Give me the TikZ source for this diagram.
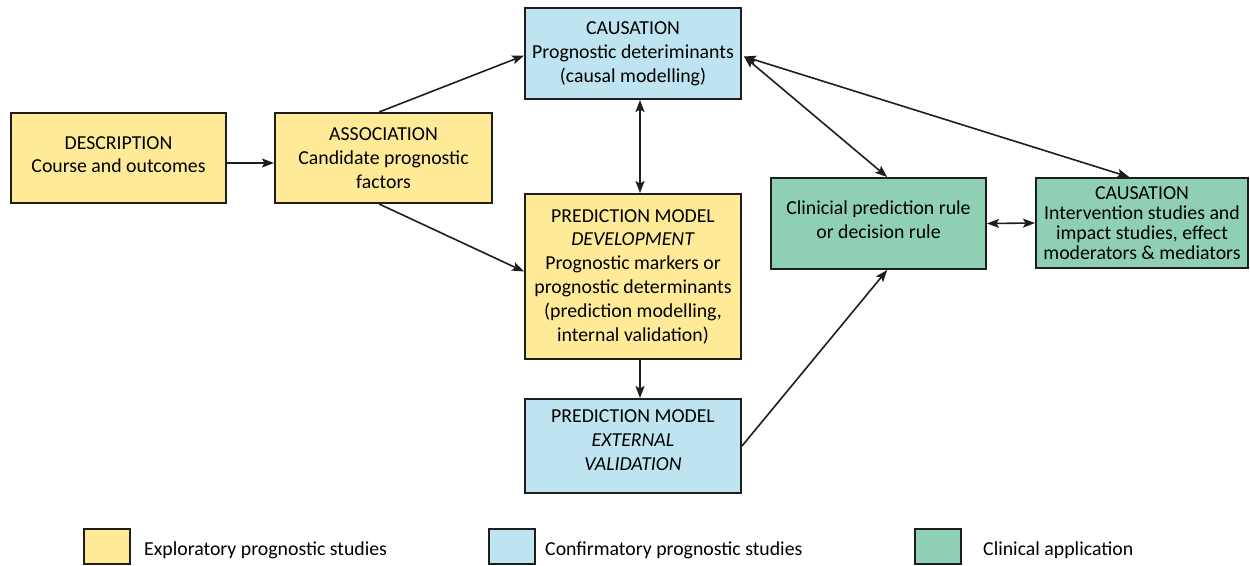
\documentclass[tikz,border=0pt]{standalone}
\usepackage{fontspec}
\setmainfont{Carlito}
\usetikzlibrary{arrows.meta,calc}
\definecolor{yel}{RGB}{255,234,152}
\definecolor{blu}{RGB}{190,228,241}
\definecolor{grn}{RGB}{143,208,181}
\definecolor{edge}{RGB}{30,30,30}
\begin{document}
\begin{tikzpicture}[x=1pt,y=-1pt,
  box/.style={draw=edge, line width=2pt, align=center, inner sep=0pt,
    font=\fontsize{19.8}{23.8}\selectfont},
  ybox/.style={box, fill=yel},
  bbox/.style={box, fill=blu},
  gbox/.style={box, fill=grn},
  tip/.tip={Stealth[length=12pt,width=9pt,inset=2.5pt]},
  arr/.style={line width=1.6pt, draw=edge, -tip},
  darr/.style={line width=1.6pt, draw=edge, tip-tip},
  legsq/.style={draw=edge, line width=2pt, minimum width=46pt, minimum height=35pt, inner sep=0pt},
  legtxt/.style={anchor=base west, inner sep=0pt, font=\fontsize{19.8}{23.8}\selectfont}]
\useasboundingbox (0,0) rectangle (1250,565);
\fill[white] (0,0) rectangle (1250,565);

\node[ybox, minimum width=215pt, minimum height=90pt] (desc) at (118.5,158)
  {DESCRIPTION\\Course and outcomes\\[-16.8pt]};
\node[ybox, minimum width=217pt, minimum height=90pt] (assoc) at (383.5,158)
  {ASSOCIATION\\Candidate prognostic\\factors};
\node[bbox, minimum width=216pt, minimum height=91pt] (caus) at (633,53.5)
  {CAUSATION\\Prognostic deteriminants\\(causal modelling)};
\node[ybox, minimum width=216pt, minimum height=165pt] (dev) at (633,276.5)
  {PREDICTION MODEL\\\textit{DEVELOPMENT}\\Prognostic markers or\\prognostic determinants\\(prediction modelling,\\internal validation)};
\node[bbox, minimum width=216pt, minimum height=94pt] (ext) at (633,446)
  {PREDICTION MODEL\\\textit{EXTERNAL}\\\textit{VALIDATION}\\[-11.8pt]};
\node[gbox, minimum width=215pt, minimum height=91pt] (clin) at (878.5,223.5)
  {Clinicial prediction rule\\or decision rule\\[-16.8pt]};
\node[gbox, minimum width=212pt, minimum height=90pt,
  font=\fontsize{19.8}{20}\selectfont] (rcaus) at (1142,223)
  {CAUSATION\\Intervention studies and\\impact studies, effect\\moderators \& mediators};

% connectors
\draw[arr] ($(desc.east)+(0,5)$) -- ($(assoc.west)+(0,5)$);
\draw[arr] ($(assoc.north west)!0.48!(assoc.north east)$) -- ($(caus.west)+(0,2)$);
\draw[arr] ($(assoc.south west)!0.48!(assoc.south east)$) -- ($(dev.north west)!0.47!(dev.south west)$);
\draw[darr] ($(caus.south)+(7,0)$) -- ($(dev.north)+(7,0)$);
\draw[arr] ($(dev.south)+(7,0)$) -- ($(ext.north)+(7,0)$);
\draw[arr] (ext.east) -- ($(clin.south west)!0.54!(clin.south east)$);
\draw[darr] ($(caus.east)+(2,3)$) -- ($(clin.north west)!0.54!(clin.north east)$);
\draw[darr] ($(caus.east)+(2,3)$) -- ($(rcaus.north west)!0.44!(rcaus.north east)$);
\draw[darr] (clin.east) -- (rcaus.west);

% legend
\node[legsq, fill=yel] (ly) at (107,546.5) {};
\node[legsq, fill=blu] (lb) at (511.5,546.5) {};
\node[legsq, fill=grn] (lg) at (937.5,546.5) {};
\node[legtxt] (lyt) at (144,555) {Exploratory prognostic studies};
\node[legtxt] (lbt) at (545,555) {Confirmatory prognostic studies};
\node[legtxt] (lgt) at (983,555) {Clinical application};
\end{tikzpicture}
\end{document}
